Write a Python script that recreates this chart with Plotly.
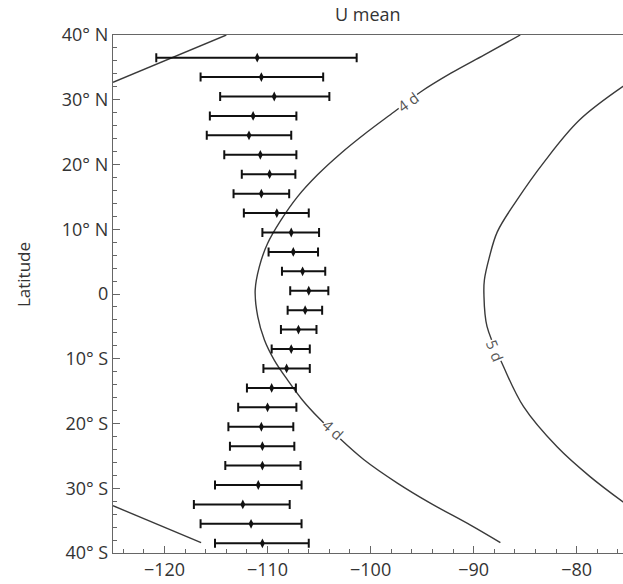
import plotly.graph_objects as go

# Latitudes of the error-bar rows (deg, + = N)
lat = [36.5, 33.5, 30.5, 27.5, 24.5, 21.5, 18.5, 15.5, 12.5, 9.5, 6.5, 3.5, 0.5,
       -2.5, -5.5, -8.5, -11.5, -14.5, -17.5, -20.5, -23.5, -26.5, -29.5, -32.5, -35.5, -38.5]
# U mean (longitude) and interval bounds
u_mean = [-111.0, -110.6, -109.35, -111.4, -111.8, -110.7, -109.8, -110.6, -109.1, -107.7, -107.5, -106.6, -106.0,
          -106.35, -107.0, -107.7, -108.15, -109.6, -110.0, -110.6, -110.5, -110.5, -110.9, -112.4, -111.6, -110.5]
u_low = [-120.8, -116.5, -114.6, -115.6, -115.9, -114.2, -112.5, -113.3, -112.3, -110.5, -109.9, -108.6, -107.8,
         -108.05, -108.7, -109.6, -110.4, -112.0, -112.85, -113.8, -113.65, -114.1, -115.1, -117.15, -116.5, -115.1]
u_high = [-101.35, -104.6, -104.0, -107.2, -107.7, -107.2, -107.3, -107.9, -106.0, -105.0, -105.1, -104.4, -104.1,
          -104.7, -105.25, -105.9, -105.9, -107.25, -107.2, -107.5, -107.4, -106.8, -106.7, -107.85, -106.7, -106.0]

# "4 d" contour (main branch)
c4_lon = [-85.47, -89.0, -92.2, -95.15, -97.7, -100.3, -102.9, -105.15, -107.1, -108.7, -110.0, -110.8, -111.2,
          -110.95, -110.3, -109.35, -108.05, -106.6, -105.0, -103.2, -100.64, -97.4, -94.2, -90.3, -87.4]
c4_lat = [40.0, 36.9, 34.1, 31.2, 28.15, 25.05, 21.7, 18.4, 15.0, 11.4, 7.8, 4.2, 0.6,
          -3.5, -7.1, -10.2, -13.3, -16.4, -19.2, -22.0, -25.6, -29.2, -32.3, -35.7, -38.4]
# "4 d" contour corner pieces
c4a_lon = [-125.0, -114.0]
c4a_lat = [32.7, 40.0]
c4b_lon = [-125.0, -116.45]
c4b_lat = [-32.7, -38.4]
# "5 d" contour
c5_lon = [-75.0, -79.7, -83.2, -85.8, -87.7, -88.5, -88.95, -89.0, -88.7, -87.1, -85.15, -81.9, -78.7, -75.0]
c5_lat = [32.6, 26.9, 20.3, 14.5, 9.6, 5.5, 2.2, 0.0, -5.0, -11.2, -17.4, -23.6, -28.2, -32.7]

y_ticks = [40, 30, 20, 10, 0, -10, -20, -30, -40]
y_ticktext = ["40° N", "30° N", "20° N", "10° N", "0", "10° S", "20° S", "30° S", "40° S"]

line_col = "#3a3a3a"
fig = go.Figure()
for xs, ys in [(c4_lon, c4_lat), (c4a_lon, c4a_lat), (c4b_lon, c4b_lat), (c5_lon, c5_lat)]:
    fig.add_trace(go.Scatter(x=xs, y=ys, mode="lines", line=dict(color=line_col, width=1.4, shape="spline"),
                             hoverinfo="skip", showlegend=False))

fig.add_trace(go.Scatter(
    x=u_mean, y=lat, mode="markers",
    marker=dict(symbol="diamond-tall", size=7, color="#111111"),
    error_x=dict(type="data", symmetric=False,
                 array=[h - m for h, m in zip(u_high, u_mean)],
                 arrayminus=[m - l for m, l in zip(u_mean, u_low)],
                 color="#111111", thickness=2, width=4.5),
    showlegend=False))

lab_font = dict(family="Open Sans", size=15, color="#555555")
for x, y, t, ang in [(-96.4, 29.7, "4 d", -36), (-103.6, -21.0, "4 d", 42), (-87.9, -8.8, "5 d", 68)]:
    fig.add_annotation(x=x, y=y, text=t, showarrow=False, textangle=ang, font=lab_font,
                       bgcolor="white", borderpad=0)

fig.add_annotation(xref="paper", yref="paper", x=0.5, y=1, yshift=7, yanchor="bottom",
                   text="U mean", showarrow=False, font=dict(family="Open Sans", size=18, color="#333333"))
fig.add_annotation(xref="paper", yref="y", x=0, xshift=-89.5, xanchor="center", y=3, text="Latitude",
                   textangle=-90, showarrow=False, font=dict(family="Open Sans", size=17, color="#333333"))

axis_common = dict(showgrid=False, zeroline=False, showline=True, linecolor="#666666", linewidth=1.3,
                   ticks="inside", tickcolor="#666666", tickwidth=1.2,
                   tickfont=dict(family="Open Sans", size=18, color="#333333"))
fig.update_xaxes(range=[-125, -75.5], tickmode="linear", tick0=0, dtick=10, ticklen=7, mirror=True,
                 minor=dict(ticks="inside", ticklen=4, dtick=2, tick0=0, tickcolor="#666666"),
                 **axis_common)
fig.update_yaxes(range=[-40, 40], tickmode="array", tickvals=y_ticks, ticktext=y_ticktext, ticklen=7,
                 minor=dict(ticks="inside", ticklen=4, dtick=2, tick0=0, tickcolor="#666666"),
                 **axis_common)

fig.update_layout(width=623, height=584, margin=dict(l=113, r=0, t=35, b=31),
                  plot_bgcolor="white", paper_bgcolor="white")
fig.write_html("out.html")
